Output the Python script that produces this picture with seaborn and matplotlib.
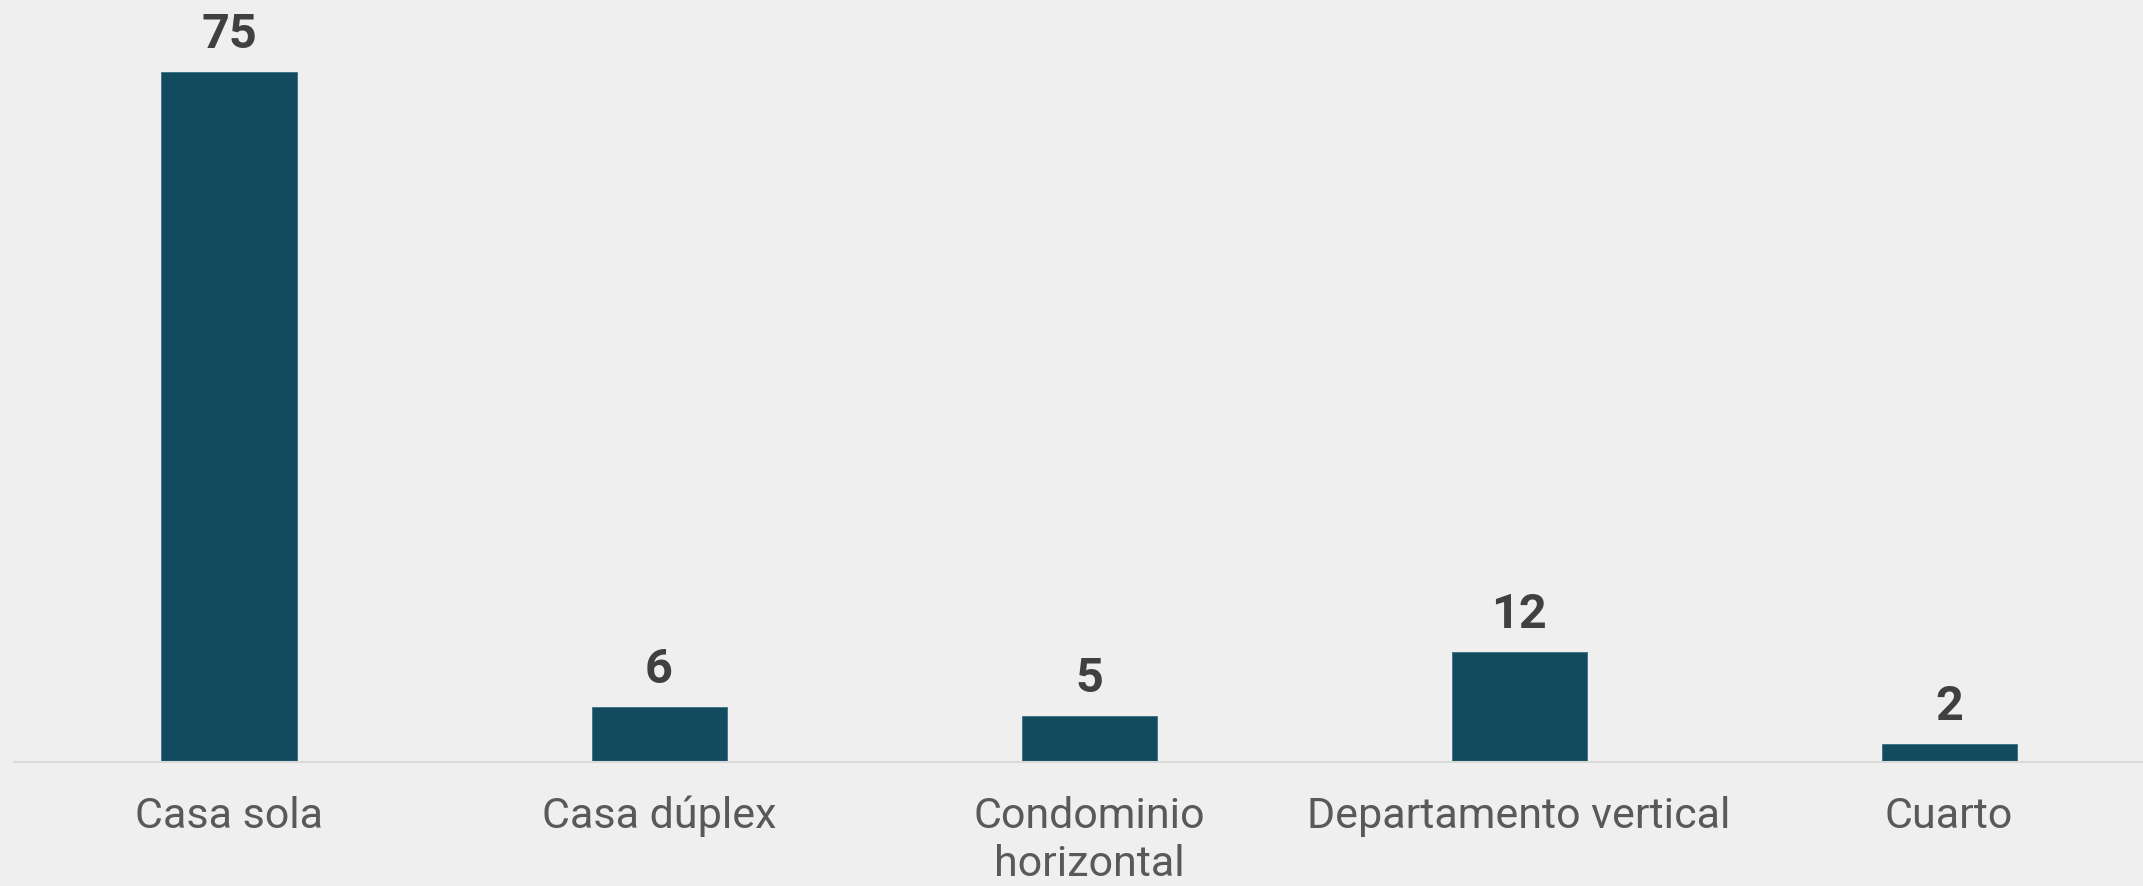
import matplotlib
matplotlib.use("Agg")
import matplotlib.pyplot as plt
import seaborn as sns
import pandas as pd

# Data
categories = ["Casa sola", "Casa dúplex", "Condominio\nhorizontal", "Departamento vertical", "Cuarto"]
values = [75, 6, 5, 12, 2]

df = pd.DataFrame({"tipo": categories, "n": values})

bg = "#EFEFEF"
bar_color = "#124B5F"

sns.set_style("white")
plt.rcParams["font.family"] = ["Roboto", "DejaVu Sans"]

fig = plt.figure(figsize=(21.43, 8.86), dpi=100, facecolor=bg)
ax = fig.add_axes([14 / 2143, 0.1396, 1 - 14 / 2143, 1 - 0.1396])
ax.set_facecolor(bg)

sns.barplot(data=df, x="tipo", y="n", color=bar_color, width=0.314,
            saturation=1, ax=ax, edgecolor="#3c6f80", linewidth=0.6)

ax.set_xlim(-0.5, 4.451)
ax.set_ylim(0, 82.86)

# value labels above bars
for i, v in enumerate(values):
    ax.text(i, v + 2.6, str(v), ha="center", va="baseline",
            fontsize=35, fontweight="bold", color="#404040")

for s in ["top", "right", "left"]:
    ax.spines[s].set_visible(False)
ax.spines["bottom"].set_color("#D9D9D9")
ax.spines["bottom"].set_linewidth(1.5)

ax.set_yticks([])
ax.set_xlabel("")
ax.set_ylabel("")
ax.tick_params(axis="x", length=0, pad=24, labelsize=31, labelcolor="#595959")
for lbl in ax.get_xticklabels():
    lbl.set_linespacing(1.24)

fig.savefig("out.png", dpi=100, facecolor=bg)
